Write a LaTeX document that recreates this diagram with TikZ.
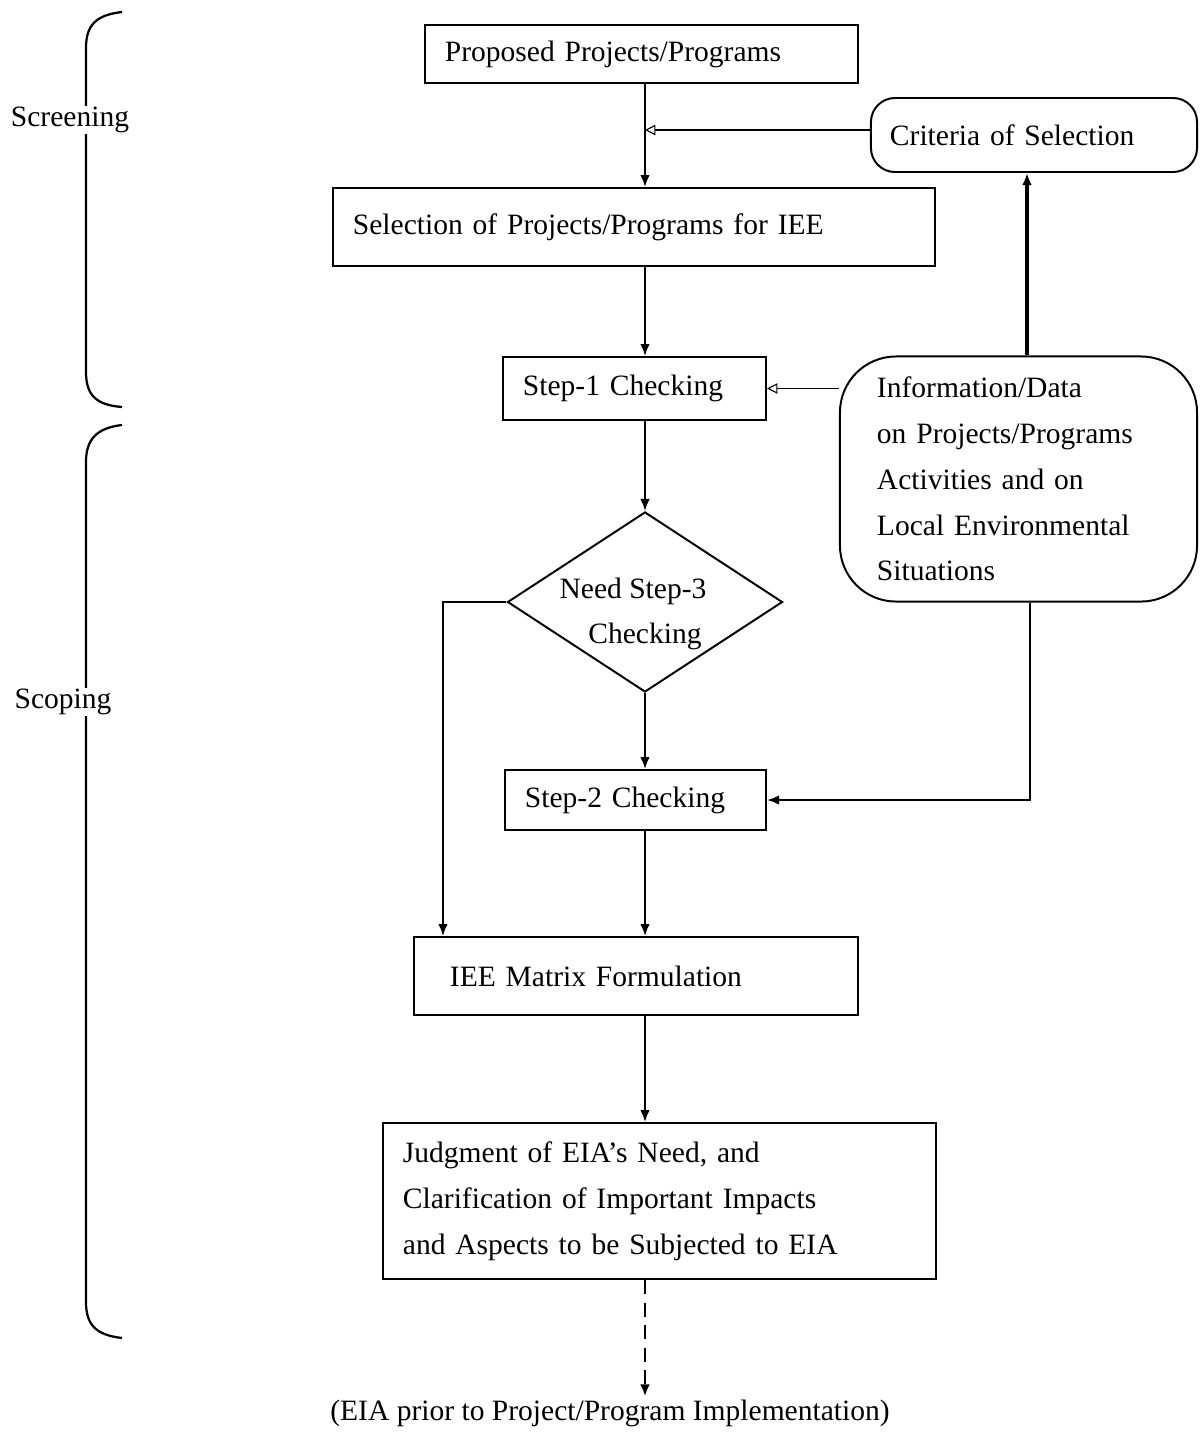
\documentclass[tikz,border=0pt]{standalone}
\usepackage{fontspec}
\setmainfont{Liberation Serif}
\usepackage{tikz}
\usetikzlibrary{shapes,shapes.geometric,arrows.meta,calc,positioning}
\tikzset{
  proc_box/.style={draw, line width=1.4pt, inner ysep=0pt, inner xsep=0.5cm, align=left, font=\fontsize{21}{32.6}\selectfont},
  round_box/.style={proc_box, rounded corners=0.6cm},
  dec_node/.style={draw, diamond, line width=1.4pt, inner sep=0pt},
  dec_text/.style={align=center, inner sep=0pt, font=\fontsize{21}{32.6}\selectfont},
  flow/.style={line width=1.5pt, -{Latex[length=3mm,width=2.4mm]}},
  feed/.style={line width=0.8pt, -{Triangle[open,length=2.6mm,width=2.6mm]}},
  brace_line/.style={line width=1.6pt},
  side_label/.style={fill=white, inner sep=1pt, font=\fontsize{21}{24}\selectfont}
}
\begin{document}
\begin{tikzpicture}[x=0.025cm, y=-0.025cm]
\useasboundingbox (0,0) rectangle (1200,1434);

% boxes of the flow
\node [proc_box, minimum width=10.83cm, minimum height=1.45cm, text width=9.83cm] (proposed) at (641.5,54) {Proposed Projects/Programs};
\node [round_box, minimum width=8.15cm, minimum height=1.85cm, text width=7.2cm, inner xsep=0.475cm] (criteria) at (1034,135) {Criteria of Selection};
\node [proc_box, minimum width=15.05cm, minimum height=1.95cm, text width=14.05cm] (selection) at (634,227) {Selection of Projects/Programs for IEE};
\node [proc_box, minimum width=6.575cm, minimum height=1.575cm, text width=5.575cm] (step1) at (634.5,388.5) {Step-1 Checking};
\node [round_box, rounded corners=1.4cm, minimum width=8.925cm, minimum height=6.125cm, text width=7.075cm, inner xsep=0.925cm] (info) at (1018.5,479)
  {Information/Data\\on Projects/Programs\\Activities and on\\Local Environmental\\Situations};
\node [dec_node, minimum width=6.875cm, minimum height=4.5cm] (need) at (645,602) {};
\node [dec_text] (needtext) at (633,614) {Need Step-3\\\hspace*{0.6cm}Checking};
\node [proc_box, minimum width=6.525cm, minimum height=1.5cm, text width=5.525cm] (step2) at (635.5,800) {Step-2 Checking};
\node [proc_box, minimum width=11.1cm, minimum height=1.95cm, text width=9.3cm, inner xsep=0.9cm] (iee) at (636,976) {IEE Matrix Formulation};
\node [proc_box, minimum width=13.825cm, minimum height=3.9cm, text width=12.825cm] (judgment) at (659.5,1201)
  {Judgment of EIA's Need, and\\Clarification of Important Impacts\\and Aspects to be Subjected to EIA};
\node [font=\fontsize{21}{24}\selectfont, inner sep=2pt] (eia) at (610,1413) {(EIA prior to Project/Program Implementation)};

% guide coordinates
\coordinate (trunk) at (645,0);
\coordinate (leftway) at (443,0);
\coordinate (upway) at (1027,0);
\coordinate (downway) at (1030,0);

% connectors
\draw [flow] (proposed.south -| trunk) -- (selection.north -| trunk);
\draw [feed] (criteria.west |- 0,130) -- (trunk |- 0,130);
\draw [flow] (selection.south -| trunk) -- (step1.north -| trunk);
\draw [feed] (step1.east -| info.west) -- (step1.east);
\draw [flow, line width=2.2pt] (info.north -| upway) -- (criteria.south -| upway);
\draw [flow] (step1.south -| trunk) -- (need.north);
\draw [flow] (need.south) -- (need.south |- step2.north);
\draw [flow] (need.west) -| (iee.north -| leftway);
\draw [flow] (info.south -| downway) |- (step2.east);
\draw [flow] (step2.south -| trunk) -- (iee.north -| trunk);
\draw [flow] (iee.south -| trunk) -- (judgment.north -| trunk);
\draw [flow, line width=2pt, dash pattern=on 10pt off 6pt] (judgment.south -| trunk) -- (eia.north -| trunk);

% side braces
\draw [brace_line] (122,12) .. controls (96,15) and (86,25) .. (86,48) -- (86,372) .. controls (86,395) and (96,405) .. (122,407);
\node [side_label] (screening) at (70,120) {Screening};
\draw [brace_line] (122,425) .. controls (96,428) and (86,440) .. (86,462) -- (86,1302) .. controls (86,1325) and (96,1335) .. (122,1338);
\node [side_label] (scoping) at (63,702) {Scoping};
\end{tikzpicture}
\end{document}
